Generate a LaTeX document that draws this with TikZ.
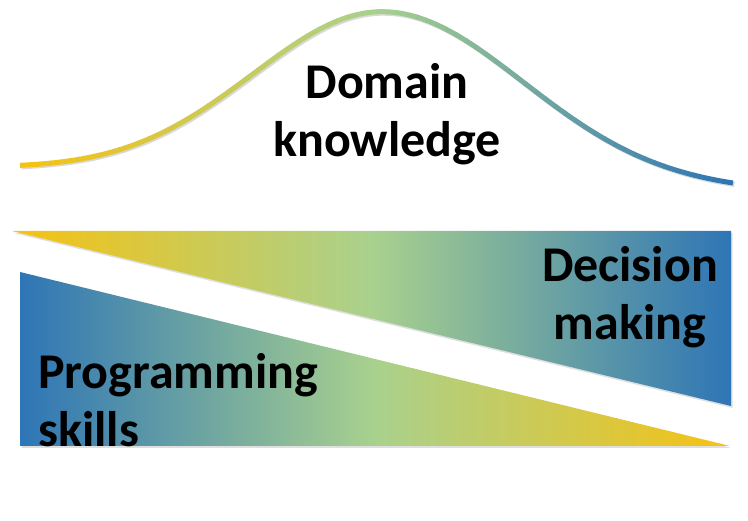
\documentclass[tikz,border=0pt]{standalone}
\usepackage{fontspec}
\setmainfont{Carlito}
\usepackage{xcolor}
\definecolor{mygold}{RGB}{246,194,18}
\definecolor{mylightgreen}{RGB}{169,209,142}
\definecolor{mysteelblue}{RGB}{46,117,182}
\usepackage{tikz}
\usetikzlibrary{shadows}
\pgfdeclarehorizontalshading{goldgreenblue}{100bp}{color(0bp)=(mygold); color(25bp)=(mygold); color(50bp)=(mylightgreen); color(75bp)=(mysteelblue); color(100bp)=(mysteelblue)}
\pgfdeclarehorizontalshading{bluegreengold}{100bp}{color(0bp)=(mysteelblue); color(25bp)=(mysteelblue); color(50bp)=(mylightgreen); color(75bp)=(mygold); color(100bp)=(mygold)}
\newcommand{\segwidth}{9.9028}
\tikzset{
    common/.style={inner sep=0pt, font=\fontsize{50}{58}\selectfont\bfseries},
    heading/.style={common, align=center},
    wedge/.style={drop shadow={shadow xshift=1.5pt, shadow yshift=-2pt, opacity=0.25}},
    curve/.style={line width=5pt, line cap=butt},
    declare function={bell(\x)=169+(\x-20)/713*21-168*exp(-0.5*pow((\x-385)/((\x<385)?132:138),2));}
}

\begin{document}
\begin{tikzpicture}[x=1pt, y=-1pt]
      \useasboundingbox (0,0) rectangle (748,521);

      \shade[wedge, shading=goldgreenblue] (12,231) -- (731,231) -- (731,406) -- cycle;
      \shade[wedge, shading=bluegreengold] (20,272) -- (730,446) -- (20,446) -- cycle;

      % bell curve, coloured piece by piece
      \draw[curve, black, opacity=0.15, xshift=1.5pt, yshift=-1.5pt]
          plot[domain=20:733, samples=120] (\x, {bell(\x)});
      \foreach \i in {0,...,71} {
          \pgfmathsetmacro\xa{20+\i*\segwidth}
          \pgfmathsetmacro\xb{min(\xa+\segwidth+0.8,733)}
          \pgfmathsetmacro\pa{min(200*\i/71,100)}
          \pgfmathsetmacro\pb{max(200*\i/71-100,0)}
          \colorlet{segmix}{mylightgreen!\pa!mygold}
          \colorlet{segcol}{mysteelblue!\pb!segmix}
          \draw[curve, segcol] plot[domain=\xa:\xb, samples=5] (\x, {bell(\x)});
      }

      \node[heading] (domain) at (387,114) {Domain\\knowledge};
      \node[heading] (decision) at (630,297) {Decision\\making};
      \node[common, align=left, anchor=west] (programming) at (38,400) {Programming\\skills};
\end{tikzpicture}
\end{document}
